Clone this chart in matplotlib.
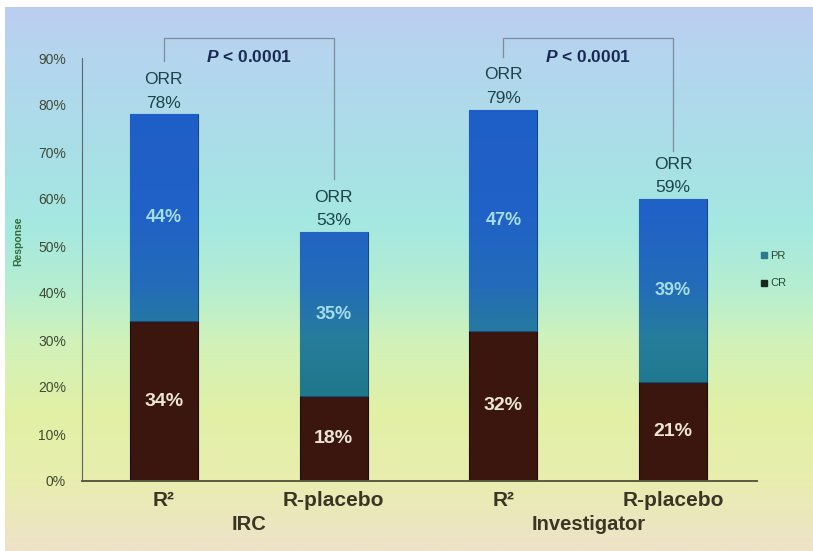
import numpy as np
import matplotlib.pyplot as plt
from matplotlib.colors import LinearSegmentedColormap
from matplotlib.lines import Line2D

plt.rcParams['font.family'] = ['Liberation Sans', 'DejaVu Sans']
plt.rcParams['mathtext.fontset'] = 'custom'
plt.rcParams['mathtext.bfit'] = 'Liberation Sans:italic:bold'
plt.rcParams['mathtext.rm'] = 'Liberation Sans'

# Response rates by assessment (IRC / Investigator) and arm
arms = ["R²", "R-placebo", "R²", "R-placebo"]
groups = ["IRC", "Investigator"]
cr = [34, 18, 32, 21]
pr = [44, 35, 47, 39]
orr = [78, 53, 79, 59]
p_values = ["P < 0.0001", "P < 0.0001"]
yticks = [0, 10, 20, 30, 40, 50, 60, 70, 80, 90]

fig = plt.figure(figsize=(8.13, 5.51), dpi=100)
fig.patch.set_facecolor("white")

# slide background gradient
bg = fig.add_axes([5 / 813, 0, 808 / 813, 544 / 551])
bg_stops = [
    (0.00, (188, 206, 240)),
    (0.10, (180, 214, 238)),
    (0.25, (170, 222, 232)),
    (0.40, (165, 232, 225)),
    (0.52, (182, 238, 208)),
    (0.62, (210, 242, 185)),
    (0.75, (226, 240, 165)),
    (0.87, (232, 238, 175)),
    (1.00, (238, 226, 200)),
]
bg_cmap = LinearSegmentedColormap.from_list(
    "slide", [(s, tuple(c / 255 for c in rgb)) for s, rgb in bg_stops])
bg.imshow(np.linspace(0, 1, 256).reshape(-1, 1), cmap=bg_cmap, aspect="auto",
          extent=[0, 1, 1, 0])
bg.axis("off")

ax = fig.add_axes([82 / 813, 70 / 551, 675 / 813, 423 / 551])
ax.patch.set_alpha(0)

x = np.arange(len(arms))
width = 0.4
cr_bars = ax.bar(x, cr, width, color="#3a160f", edgecolor="#1e0a06", linewidth=0.8, zorder=2)
pr_bars = ax.bar(x, pr, width, bottom=cr, color="#2a70b0", edgecolor="#184878", linewidth=0.8, zorder=2)

# blue-to-teal shading on the PR segments
pr_cmap = LinearSegmentedColormap.from_list("pr", [
    (0.0, (28 / 255, 118 / 255, 135 / 255)),
    (0.2, (38 / 255, 125 / 255, 155 / 255)),
    (0.35, (36 / 255, 108 / 255, 185 / 255)),
    (0.55, (32 / 255, 98 / 255, 198 / 255)),
    (1.0, (30 / 255, 92 / 255, 200 / 255)),
])
for bar in pr_bars:
    im = ax.imshow(np.linspace(1, 0, 256).reshape(-1, 1), cmap=pr_cmap, aspect="auto",
                   extent=[-0.5, 3.5, 15, 90], zorder=2.5)
    im.set_clip_path(bar)

ax.set_xlim(-0.482, 3.494)
ax.set_ylim(0, 90)

# segment labels
for i in range(len(arms)):
    ax.text(x[i], cr[i] / 2, f"{cr[i]}%", ha="center", va="center",
            fontsize=14, fontweight="bold", color="#ece4d4", zorder=3)
    ax.text(x[i], cr[i] + pr[i] / 2, f"{pr[i]}%", ha="center", va="center",
            fontsize=13, fontweight="bold", color="#a4dde6", zorder=3)
    top = cr[i] + pr[i]
    ax.annotate(f"{orr[i]}%", (x[i], top), xytext=(0, 8), textcoords="offset points",
                ha="center", va="center", fontsize=12.5, color="#1a4448",
                annotation_clip=False)
    ax.annotate("ORR", (x[i], top), xytext=(0, 25), textcoords="offset points",
                ha="center", va="center", fontsize=12.5, color="#1a4448",
                annotation_clip=False)

# significance brackets
bracket_top = 94.3
for k, label in enumerate(p_values):
    a, b = 2 * k, 2 * k + 1
    ax.plot([x[a], x[a], x[b], x[b]],
            [orr[a] + 11.3, bracket_top, bracket_top, orr[b] + 11.3],
            color="#7c8c9c", linewidth=0.9, clip_on=False)
    ax.text((x[a] + x[b]) / 2, 90.3, r"$\mathbfit{P}$ < 0.0001", ha="center", va="center",
            fontsize=12.5, fontweight="bold", color="#1a2a55")

# axes styling
for side in ["top", "right"]:
    ax.spines[side].set_visible(False)
ax.spines["left"].set_color("#5c6470")
ax.spines["left"].set_linewidth(0.8)
ax.spines["bottom"].set_color("#5a5a40")
ax.spines["bottom"].set_linewidth(1.4)
ax.set_yticks(yticks)
ax.set_yticklabels([f"{v}%" for v in yticks])
ax.tick_params(axis="y", length=0, pad=11.5, labelsize=10, labelcolor="#404a34")
ax.set_xticks(x)
ax.set_xticklabels(arms)
ax.tick_params(axis="x", length=0, pad=7, labelsize=15, labelcolor="#3a3525")
for lbl in ax.get_xticklabels():
    lbl.set_fontweight("bold")

for k, g in enumerate(groups):
    ax.text(2 * k + 0.5, -0.102, g, transform=ax.get_xaxis_transform(), ha="center",
            va="center", fontsize=14.5, fontweight="bold", color="#3a3525")

fig.text(18 / 813, 1 - 241 / 551, "Response", rotation=90, ha="center", va="center",
         fontsize=7.5, fontweight="bold", color="#2f6b3a")

handles = [
    Line2D([], [], marker="s", linestyle="none", markersize=4.5, color="#2a7a90"),
    Line2D([], [], marker="s", linestyle="none", markersize=4.5, color="#17281c"),
]
ax.legend(handles, ["PR", "CR"], loc="center left", bbox_to_anchor=(1.005, 0.5),
          frameon=False, fontsize=8, handlelength=0.6, handletextpad=0.3,
          labelspacing=1.6, borderpad=0, borderaxespad=0, labelcolor="#2a4a34")

fig.savefig("out.png", dpi=100)
